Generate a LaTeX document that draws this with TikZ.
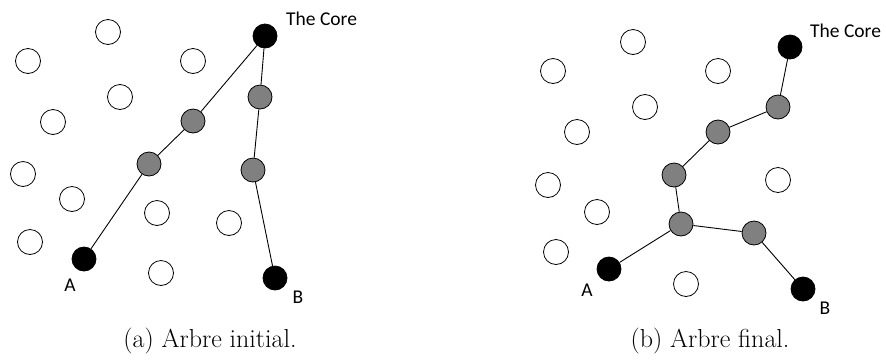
\documentclass[tikz,border=0pt]{standalone}
\usepackage{fontspec}
\newfontfamily\lblfont{Carlito}
\tikzset{
  wnode/.style={circle,draw=black,fill=white,line width=0.8pt,minimum size=25pt,inner sep=0pt},
  gnode/.style={circle,draw=black,fill=gray!100!white,line width=0.8pt,minimum size=24pt,inner sep=0pt},
  bnode/.style={circle,draw=black,fill=black,line width=0.8pt,minimum size=24pt,inner sep=0pt},
  edgeline/.style={draw=black,line width=0.9pt},
  lbl/.style={font=\lblfont\fontsize{19.5}{22}\selectfont,inner sep=0pt},
  captext/.style={font=\fontsize{26}{30}\selectfont,inner sep=0pt,anchor=base}
}
\begin{document}
\begin{tikzpicture}[x=1pt,y=-1pt]
\useasboundingbox (0,0) rectangle (886,360);
% ---------- left panel ----------
\node[wnode] (lw1) at (108,32) {};
\node[wnode] (lw2) at (28,61) {};
\node[wnode] (lw3) at (193,61) {};
\node[wnode] (lw4) at (120,97) {};
\node[wnode] (lw5) at (53,122) {};
\node[wnode] (lw6) at (23,174) {};
\node[wnode] (lw7) at (72,199) {};
\node[wnode] (lw8) at (157,213) {};
\node[wnode] (lw9) at (229,223) {};
\node[wnode] (lw10) at (30,242) {};
\node[wnode] (lw11) at (161,273) {};
\node[gnode] (lg1) at (193,121) {};
\node[gnode] (lg2) at (149,164) {};
\node[gnode] (lg3) at (260,97) {};
\node[gnode] (lg4) at (253,170) {};
\node[bnode] (lcore) at (265,36) {};
\node[bnode] (lA) at (84,259) {};
\node[bnode] (lB) at (275,278) {};
\draw[edgeline] (lcore) -- (lg1) -- (lg2) -- (lA);
\draw[edgeline] (lcore) -- (lg3) -- (lg4) -- (lB);
\node[lbl,anchor=base west] (lcoret) at (286,25) {The Core};
\node[lbl,anchor=base] (lAt) at (70,291) {A};
\node[lbl,anchor=base] (lBt) at (298,303) {B};
% ---------- right panel ----------
\node[wnode] (rw1) at (633,42) {};
\node[wnode] (rw2) at (553,71) {};
\node[wnode] (rw3) at (718,71) {};
\node[wnode] (rw4) at (645,107) {};
\node[wnode] (rw5) at (577,132) {};
\node[wnode] (rw6) at (548,185) {};
\node[wnode] (rw7) at (597,212) {};
\node[wnode] (rw8) at (778,180) {};
\node[wnode] (rw9) at (556,252) {};
\node[wnode] (rw10) at (686,284) {};
\node[gnode] (rg1) at (778,107) {};
\node[gnode] (rg2) at (718,132) {};
\node[gnode] (rg3) at (674,175) {};
\node[gnode] (rg4) at (681,224) {};
\node[gnode] (rg5) at (754,233) {};
\node[bnode] (rcore) at (790,47) {};
\node[bnode] (rA) at (609,269) {};
\node[bnode] (rB) at (803,289) {};
\draw[edgeline] (rcore) -- (rg1) -- (rg2) -- (rg3) -- (rg4) -- (rA);
\draw[edgeline] (rg4) -- (rg5) -- (rB);
\node[lbl,anchor=base west] (rcoret) at (810,37) {The Core};
\node[lbl,anchor=base] (rAt) at (587,296) {A};
\node[lbl,anchor=base] (rBt) at (825,314) {B};
% ---------- captions ----------
\node[captext] (capa) at (210,347) {(a) Arbre initial.};
\node[captext] (capb) at (710,347) {(b) Arbre final.};
\end{tikzpicture}
\end{document}
